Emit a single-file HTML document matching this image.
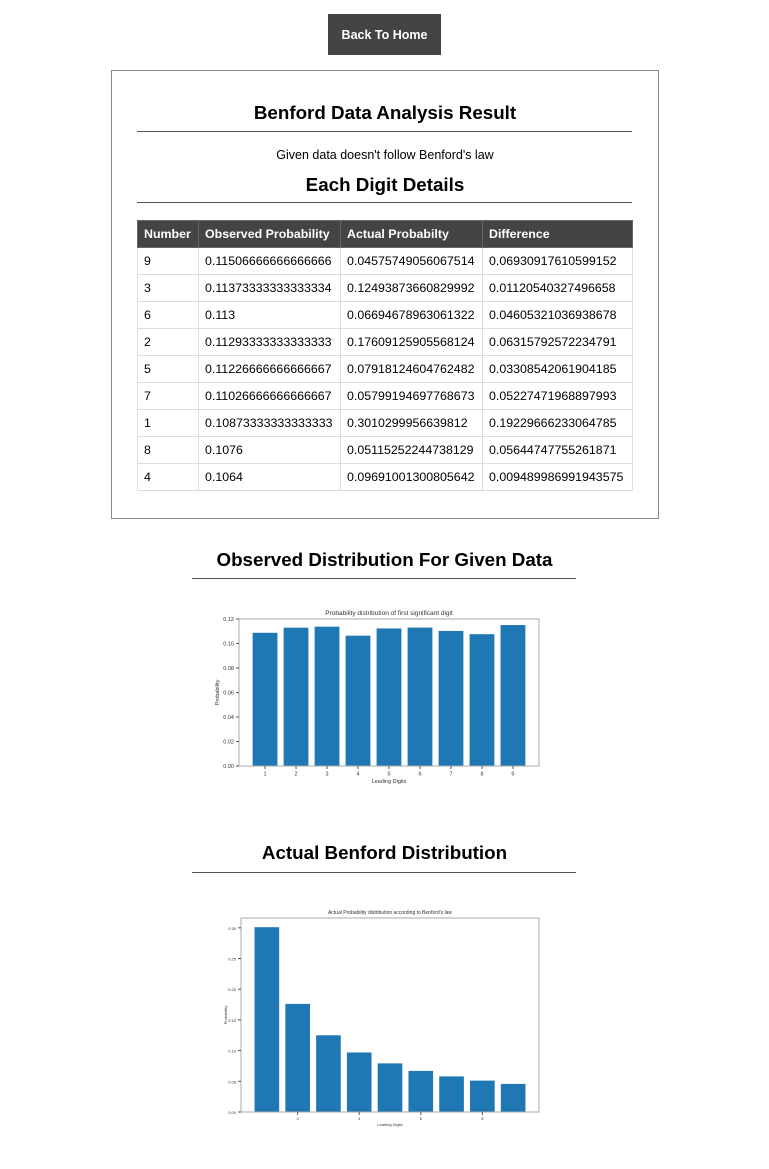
<!DOCTYPE html>
<html><head><meta charset="utf-8">
<style>
body{margin:0;width:769px;height:1169px;background:#fff;font-family:"Liberation Sans",Arial,sans-serif;color:#000;position:relative;overflow:hidden}
.abs{position:absolute}
#btn{left:328px;top:14px;width:113px;height:41px;background:#444;color:#fff;font-weight:bold;font-size:12.5px;line-height:42px;text-align:center}
#box{left:111px;top:70px;width:546px;height:447px;border:1px solid #888}
h2{margin:0;font-size:18.8px;font-weight:bold;text-align:center;position:absolute}
.hr{position:absolute;height:1px;background:#555}
table{position:absolute;left:137px;top:220px;width:495px;border-collapse:collapse;font-size:12.4px;table-layout:fixed}
td,th{border:1px solid #ddd;padding:0 0 0 6px;height:26px;text-align:left;white-space:nowrap;overflow:hidden}
th{background:#444;color:#fff;border-color:#666}
svg text{font-family:"Liberation Sans",sans-serif;fill:#333}
</style></head><body>
<div id="btn" class="abs">Back To Home</div>
<div id="box" class="abs"></div>
<h2 style="left:111px;width:548px;top:102px">Benford Data Analysis Result</h2>
<div class="hr" style="left:137px;width:495px;top:131px"></div>
<div class="abs" style="left:111px;width:548px;top:148px;font-size:12.5px;text-align:center">Given data doesn't follow Benford's law</div>
<h2 style="left:111px;width:548px;top:174px">Each Digit Details</h2>
<div class="hr" style="left:137px;width:495px;top:202px"></div>
<table>
<colgroup><col style="width:61px"><col style="width:142px"><col style="width:142px"><col style="width:150px"></colgroup>
<tr><th>Number</th><th>Observed Probability</th><th>Actual Probabilty</th><th>Difference</th></tr>
<tr><td>9</td><td>0.11506666666666666</td><td>0.04575749056067514</td><td>0.06930917610599152</td></tr>
<tr><td>3</td><td>0.11373333333333334</td><td>0.12493873660829992</td><td>0.01120540327496658</td></tr>
<tr><td>6</td><td>0.113</td><td>0.06694678963061322</td><td>0.04605321036938678</td></tr>
<tr><td>2</td><td>0.11293333333333333</td><td>0.17609125905568124</td><td>0.06315792572234791</td></tr>
<tr><td>5</td><td>0.11226666666666667</td><td>0.07918124604762482</td><td>0.03308542061904185</td></tr>
<tr><td>7</td><td>0.11026666666666667</td><td>0.05799194697768673</td><td>0.05227471968897993</td></tr>
<tr><td>1</td><td>0.10873333333333333</td><td>0.3010299956639812</td><td>0.19229666233064785</td></tr>
<tr><td>8</td><td>0.1076</td><td>0.05115252244738129</td><td>0.05644747755261871</td></tr>
<tr><td>4</td><td>0.1064</td><td>0.09691001300805642</td><td>0.009489986991943575</td></tr>
</table>
<h2 style="left:0;width:769px;top:549px">Observed Distribution For Given Data</h2>
<div class="hr" style="left:192px;width:384px;top:578px"></div>
<h2 style="left:0;width:769px;top:842px">Actual Benford Distribution</h2>
<div class="hr" style="left:192px;width:384px;top:872px"></div>
<svg id="c1" class="abs" style="left:0;top:0" width="769" height="1169"></svg>
<script>
const digits=[1,2,3,4,5,6,7,8,9];
const observedValues=[0.10873,0.11293,0.11373,0.1064,0.11227,0.113,0.11027,0.1076,0.11507];
const actualValues=[0.30103,0.17609,0.12494,0.09691,0.07918,0.06695,0.05799,0.05115,0.04576];
const obsTicks=[0,0.02,0.04,0.06,0.08,0.10,0.12];
const obsTickLabels=["0.00","0.02","0.04","0.06","0.08","0.10","0.12"];
const actTicks=[0,0.05,0.10,0.15,0.20,0.25,0.30];
const actTickLabels=["0.00","0.05","0.10","0.15","0.20","0.25","0.30"];
const actXTicks=[2,4,6,8];
const svg=document.getElementById('c1');
const NS='http://www.w3.org/2000/svg';
function mk(t,a){const e=document.createElementNS(NS,t);for(const k in a)e.setAttribute(k,a[k]);svg.appendChild(e);return e;}
function chart(o){
 const xs=v=>o.x0+(v-0.16)/(9.84-0.16)*(o.x1-o.x0);
 const ys=v=>o.y1-v/o.ymax*(o.y1-o.y0);
 o.vals.forEach((v,i)=>{const r=mk('rect',{x:xs(digits[i]-0.4),y:ys(v),width:xs(0.8)-xs(0),height:o.y1-ys(v),fill:'#1f77b4'});
  
  });
 const f=mk('rect',{x:o.x0,y:o.y0,width:o.x1-o.x0,height:o.y1-o.y0,fill:'none',stroke:'#aaa','stroke-width':1});
 
 
 o.yt.forEach((v,i)=>{mk('line',{x1:o.x0-3,x2:o.x0,y1:ys(v),y2:ys(v),stroke:'#555'});
  const t=mk('text',{x:o.x0-5,y:ys(v)+2,'font-size':o.fs,'text-anchor':'end'});t.textContent=o.ytl[i];
  
  });
 o.xt.forEach(v=>{mk('line',{x1:xs(v),x2:xs(v),y1:o.y1,y2:o.y1+3,stroke:'#555'});
  const t=mk('text',{x:xs(v),y:o.y1+o.fs+4,'font-size':o.fs,'text-anchor':'middle'});t.textContent=v;
  
  });
 const ti=mk('text',{x:(o.x0+o.x1)/2,y:o.y0-4,'font-size':o.fs+1,'text-anchor':'middle'});ti.textContent=o.title;
 
 
 const xl=mk('text',{x:(o.x0+o.x1)/2,y:o.y1+o.fs*2+6,'font-size':o.fs,'text-anchor':'middle'});xl.textContent='Leading Digits';
 
 
 const cy=(o.y0+o.y1)/2,cx=o.x0-o.yl;
 const yl=mk('text',{x:cx,y:cy,'font-size':o.fs,'text-anchor':'middle',transform:`rotate(-90 ${cx} ${cy})`});yl.textContent='Probability';
 
 
}
chart({name:'observed',x0:239,x1:539,y0:619,y1:766,ymax:0.12,vals:observedValues,yt:obsTicks,ytl:obsTickLabels,xt:digits,fs:5.5,yl:20,title:'Probability distribution of first significant digit'});
chart({name:'actual',x0:241,x1:539,y0:918,y1:1112,ymax:0.316,vals:actualValues,yt:actTicks,ytl:actTickLabels,xt:actXTicks,fs:4,yl:14,title:"Actual Probability distribution according to Benford's law"});
</script>
</body></html>
